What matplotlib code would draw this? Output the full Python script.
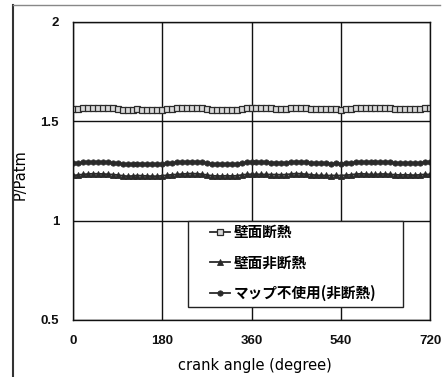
import matplotlib
matplotlib.use("Agg")
import matplotlib.pyplot as plt
from matplotlib.patches import Rectangle
from matplotlib.lines import Line2D

plt.rcParams['font.family'] = ['Liberation Sans', 'Noto Sans CJK JP', 'DejaVu Sans']

crank_angle = list(range(0, 721, 10))

insulated = [1.560, 1.562, 1.565, 1.567, 1.568, 1.568, 1.567, 1.566, 1.565, 1.563,
             1.558, 1.556, 1.557, 1.560, 1.559, 1.557, 1.556, 1.556, 1.558, 1.561,
             1.563, 1.565, 1.567, 1.568, 1.569, 1.569, 1.567, 1.562, 1.558, 1.557,
             1.557, 1.558, 1.557, 1.558, 1.563, 1.565, 1.566, 1.566, 1.566, 1.565,
             1.565, 1.564, 1.563, 1.564, 1.567, 1.569, 1.568, 1.566, 1.563, 1.562,
             1.560, 1.560, 1.560, 1.560, 1.559, 1.561, 1.563, 1.566, 1.568, 1.567,
             1.565, 1.565, 1.568, 1.567, 1.565, 1.563, 1.562, 1.563, 1.562, 1.561,
             1.563, 1.565, 1.565]

non_insulated = [1.228, 1.230, 1.233, 1.235, 1.236, 1.236, 1.235, 1.234, 1.232, 1.230,
                 1.226, 1.224, 1.225, 1.227, 1.226, 1.225, 1.224, 1.224, 1.226, 1.229,
                 1.231, 1.233, 1.235, 1.236, 1.237, 1.236, 1.234, 1.230, 1.226, 1.225,
                 1.225, 1.226, 1.225, 1.226, 1.230, 1.233, 1.234, 1.234, 1.233, 1.233,
                 1.232, 1.232, 1.231, 1.232, 1.235, 1.237, 1.236, 1.234, 1.231, 1.229,
                 1.228, 1.228, 1.227, 1.228, 1.227, 1.229, 1.231, 1.234, 1.236, 1.235,
                 1.233, 1.233, 1.235, 1.235, 1.233, 1.231, 1.230, 1.231, 1.230, 1.229,
                 1.231, 1.233, 1.233]

no_map = [1.288, 1.290, 1.293, 1.295, 1.296, 1.296, 1.295, 1.294, 1.292, 1.290,
          1.286, 1.284, 1.285, 1.287, 1.286, 1.285, 1.284, 1.284, 1.286, 1.289,
          1.291, 1.293, 1.295, 1.296, 1.297, 1.296, 1.294, 1.290, 1.286, 1.285,
          1.285, 1.286, 1.285, 1.286, 1.290, 1.293, 1.294, 1.294, 1.293, 1.293,
          1.292, 1.292, 1.291, 1.292, 1.295, 1.297, 1.296, 1.294, 1.291, 1.289,
          1.288, 1.288, 1.287, 1.288, 1.287, 1.289, 1.291, 1.294, 1.296, 1.295,
          1.293, 1.293, 1.295, 1.295, 1.293, 1.291, 1.290, 1.291, 1.290, 1.289,
          1.291, 1.293, 1.293]

labels = ['壁面断熱', '壁面非断熱', 'マップ不使用(非断熱)']
x_ticks = [0, 180, 360, 540, 720]
y_ticks = [0.5, 1, 1.5, 2]

W, H = 448, 377
fig = plt.figure(figsize=(W / 100, H / 100), dpi=100)
fig.patch.set_facecolor('white')

# outer scanned frame
fig.add_artist(Line2D([13 / W, 13 / W], [0, 1 - 5 / H], transform=fig.transFigure,
                      color='#333333', lw=1.5))
fig.add_artist(Line2D([13 / W, 440 / W], [1 - 5 / H, 1 - 5 / H], transform=fig.transFigure,
                      color='#888888', lw=1.0))

ax = fig.add_axes([73 / W, 1 - 320 / H, (430 - 73) / W, (320 - 22) / H])

col = '#2a2a2a'
ax.plot(crank_angle, insulated, color=col, lw=1.3, marker='s', ms=3.8,
        mfc='#d8d8d8', mec=col, mew=0.9, label=labels[0])
ax.plot(crank_angle, non_insulated, color=col, lw=1.3, marker='^', ms=4.2,
        mfc=col, mec=col, mew=0.6, label=labels[1])
ax.plot(crank_angle, no_map, color=col, lw=1.3, marker='o', ms=3.8,
        mfc=col, mec=col, mew=0.6, label=labels[2])

ax.set_xlim(0, 720)
ax.set_ylim(0.5, 2)
ax.set_xticks(x_ticks)
ax.set_yticks(y_ticks)
ax.set_yticklabels(['0.5', '1', '1.5', '2'])
ax.grid(True, color='#111111', lw=1.0)
ax.tick_params(length=0, labelsize=9.5, colors='#111111')
ax.tick_params(axis='x', pad=11)
ax.tick_params(axis='y', pad=10)
for lab in ax.get_xticklabels() + ax.get_yticklabels():
    lab.set_fontweight('bold')
for s in ax.spines.values():
    s.set_color('#111111')
    s.set_linewidth(1.0)

ax.set_xlabel('crank angle (degree)', fontsize=10.5, family='DejaVu Sans')
ax.xaxis.set_label_coords((255 - 73) / 357, (320 - 358) / 298)
ax.set_ylabel('P/Patm', fontsize=10.5, family='DejaVu Sans')
ax.yaxis.set_label_coords((28 - 73) / 357, (320 - 175) / 298)

# legend box (opaque, square)
ax.add_patch(Rectangle(((188 - 73) / 357, (320 - 307) / 298), (403 - 188) / 357, (307 - 221) / 298,
                       transform=ax.transAxes, facecolor='white', edgecolor='#222222',
                       lw=1.0, zorder=4))
leg = ax.legend(loc='upper left', bbox_to_anchor=((210 - 73) / 357, (320 - 224) / 298),
                frameon=False, handlelength=1.4, labelspacing=1.0, borderpad=0,
                borderaxespad=0, handletextpad=0.25,
                prop={'family': ['Noto Sans CJK JP', 'DejaVu Sans'], 'weight': 'bold', 'size': 10.5})
leg.set_zorder(5)

fig.savefig('out.png', dpi=100)
